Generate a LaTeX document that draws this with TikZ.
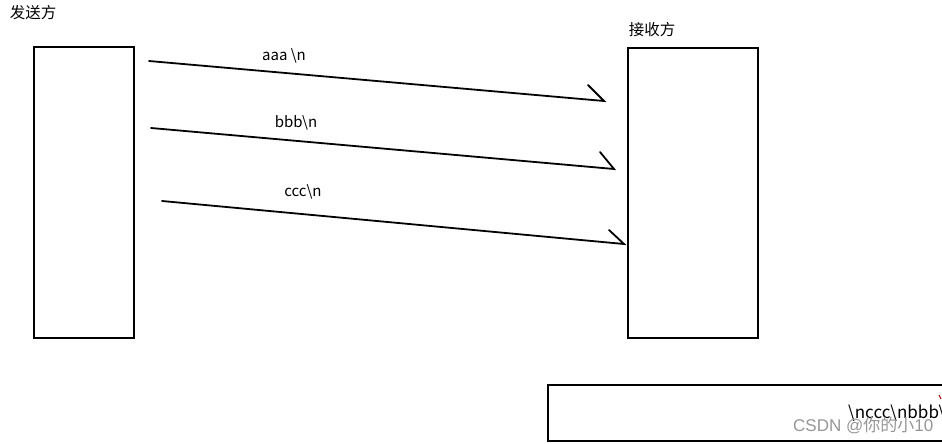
\documentclass[tikz,border=0pt]{standalone}
\usepackage{fontspec}
\setmainfont{Noto Sans CJK SC}
\newfontfamily\wmfont{Liberation Sans}
\newfontfamily\wmcjk{Noto Sans CJK SC}
\definecolor{wm}{RGB}{150,150,150}
\begin{document}
\begin{tikzpicture}[x=1pt,y=-1pt,
  box/.style={draw=black,line width=2pt,inner sep=0pt},
  msg/.style={line width=1.8pt,line cap=round},
  lbl/.style={font=\fontsize{15}{17}\selectfont,inner sep=0pt,anchor=center},
  title/.style={font=\fontsize{15.5}{17}\selectfont,inner sep=0pt,anchor=center}]
\useasboundingbox (0,0) rectangle (942,444);
\clip (0,0) rectangle (942,444);
% boxes
\node[box,minimum width=100pt,minimum height=291pt] (snd) at (84,192.5) {};
\node[box,minimum width=130pt,minimum height=290pt] (rcv) at (693,193) {};
\node[box,minimum width=420pt,minimum height=56pt] (buf) at (758,413) {};
% titles
\node[title] (tsnd) at (33,13) {发送方};
\node[title] (trcv) at (652,30) {接收方};
% arrow coordinates
\coordinate (a1) at (149,61);  \coordinate (b1) at (604,101); \coordinate (h1) at (588,85);
\coordinate (a2) at (151,128); \coordinate (b2) at (614,169); \coordinate (h2) at (600,152);
\coordinate (a3) at (162,201); \coordinate (b3) at (624,244); \coordinate (h3) at (609,230);
\draw[msg] (a1) -- (b1) -- (h1);
\draw[msg] (a2) -- (b2) -- (h2);
\draw[msg] (a3) -- (b3) -- (h3);
% labels
\node[lbl] (l1) at (284,56) {aaa \textbackslash n};
\node[lbl] (l2) at (296,123) {bbb\textbackslash n};
\node[lbl] (l3) at (303,192) {ccc\textbackslash n};
% buffer content
\node[font=\fontsize{17}{19}\selectfont,inner sep=0pt,anchor=west] (bt) at (848,413) {\textbackslash nccc\textbackslash nbbb\textbackslash naaa};
\node[font=\fontsize{17}{19}\selectfont,text=wm,inner sep=0pt,anchor=west] (wmk) at (793,425) {{\wmfont CSDN @}{\wmcjk 你的小}{\wmfont 10}};
\coordinate (r1) at (939,395); \coordinate (r2) at (941,399);
\draw[red!70!black,line width=1pt] (r1) -- (r2);
\end{tikzpicture}
\end{document}
